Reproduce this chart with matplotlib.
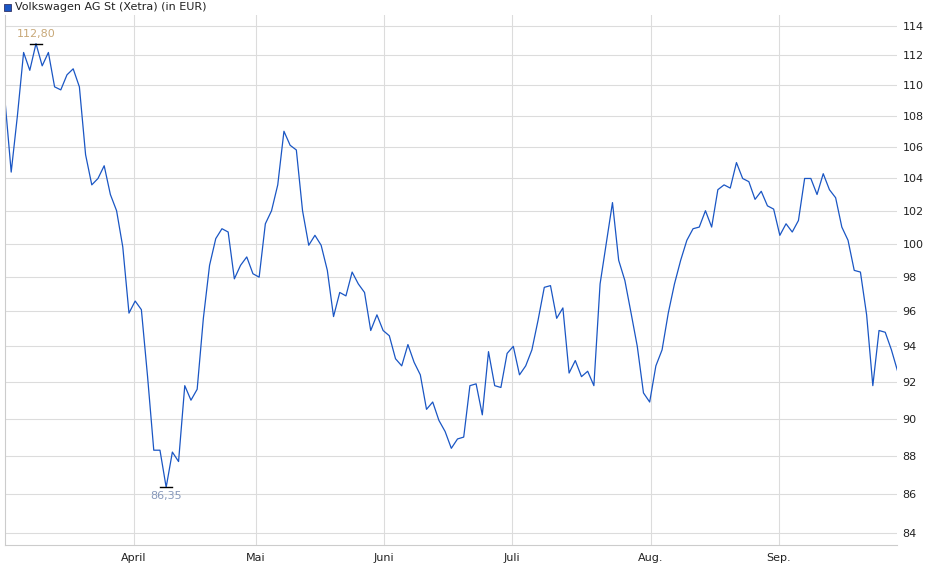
import matplotlib
matplotlib.use("Agg")
import matplotlib.pyplot as plt
from matplotlib.ticker import FixedLocator, NullLocator
import numpy as np

prices = [109.0,104.4,108.0,112.2,111.0,112.8,111.3,112.2,109.9,109.7,110.7,111.1,109.9,105.5,103.6,104.0,104.8,103.0,102.0,99.8,
          95.9,96.6,96.1,92.3,88.3,88.3,86.35,88.2,87.7,91.8,91.0,91.6,95.6,98.7,100.3,100.9,100.7,97.9,98.7,99.2,
          98.2,98.0,101.2,102.0,103.6,107.0,
          106.1,105.8,102.0,99.9,100.5,99.9,98.4,95.7,97.1,96.9,98.3,97.6,97.1,94.9,95.8,94.9,94.6,93.3,92.9,94.1,
          93.1,92.4,90.5,90.9,89.9,89.3,88.4,88.9,89.0,91.8,91.9,90.2,93.7,91.8,91.7,93.6,94.0,92.4,92.9,93.8,
          95.5,97.4,97.5,95.6,96.2,92.5,93.2,92.3,92.6,91.8,
          97.6,100.0,102.5,99.0,97.8,95.9,94.0,91.4,90.9,92.9,93.8,95.9,97.6,99.0,100.2,100.9,101.0,102.0,101.0,103.3,
          103.6,103.4,105.0,104.0,103.8,102.7,103.2,102.3,102.1,100.5,101.2,100.7,101.4,104.0,104.0,103.0,104.3,103.3,102.8,101.0,
          100.2,98.4,98.3,95.8,91.8,94.9,94.8,93.8,92.6]
month_labels = ["April", "Mai", "Juni", "Juli", "Aug.", "Sep."]
month_pos = [20.8, 40.5, 61.1, 81.8, 104.2, 124.8]
y_ticks = list(range(84, 115, 2))
series_name = "Volkswagen AG St (Xetra) (in EUR)"

x = np.arange(len(prices))
fig = plt.figure(figsize=(9.4, 5.79), dpi=100)
ax = fig.add_axes([5/940, 1-545/579, 892/940, 530/579])
ax.plot(x, prices, color="#1a56c4", lw=0.9)
ax.set_yscale("log")
ax.set_ylim(83.4, 114.76)
ax.set_xlim(0, 143.9)
ax.yaxis.set_major_locator(FixedLocator(y_ticks))
ax.yaxis.set_minor_locator(NullLocator())
ax.set_yticklabels([str(t) for t in y_ticks])
ax.xaxis.set_major_locator(FixedLocator(month_pos))
ax.set_xticklabels(month_labels)
ax.yaxis.tick_right()
ax.tick_params(axis="both", length=0, labelsize=8, colors="#222222", pad=4)
ax.tick_params(axis="x", pad=6)
ax.grid(True, color="#dcdcdc", lw=0.8)
for s in ["top", "right"]:
    ax.spines[s].set_visible(False)
for s in ["left", "bottom"]:
    ax.spines[s].set_color("#cccccc")

imax = int(np.argmax(prices)); imin = int(np.argmin(prices))
ax.plot([imax-1, imax+1], [prices[imax]]*2, color="black", lw=1)
ax.plot([imin-1, imin+1], [prices[imin]]*2, color="black", lw=1)
ax.annotate(f"{prices[imax]:.2f}".replace(".", ","), (imax, prices[imax]), xytext=(0, 3),
            textcoords="offset points", ha="center", va="bottom", fontsize=8, color="#c8a878")
ax.annotate(f"{prices[imin]:.2f}".replace(".", ","), (imin, prices[imin]), xytext=(0, -3),
            textcoords="offset points", ha="center", va="top", fontsize=8, color="#8899bb")

fig.patches.append(plt.Rectangle((4/940, 1-11/579), 7/940, 7/579, transform=fig.transFigure,
                                 facecolor="#1a56c4", edgecolor="#333366", lw=0.6))
fig.text(15/940, 1-7.5/579, series_name, fontsize=8, va="center", ha="left", color="#222222")
fig.savefig("out.png", dpi=100)
